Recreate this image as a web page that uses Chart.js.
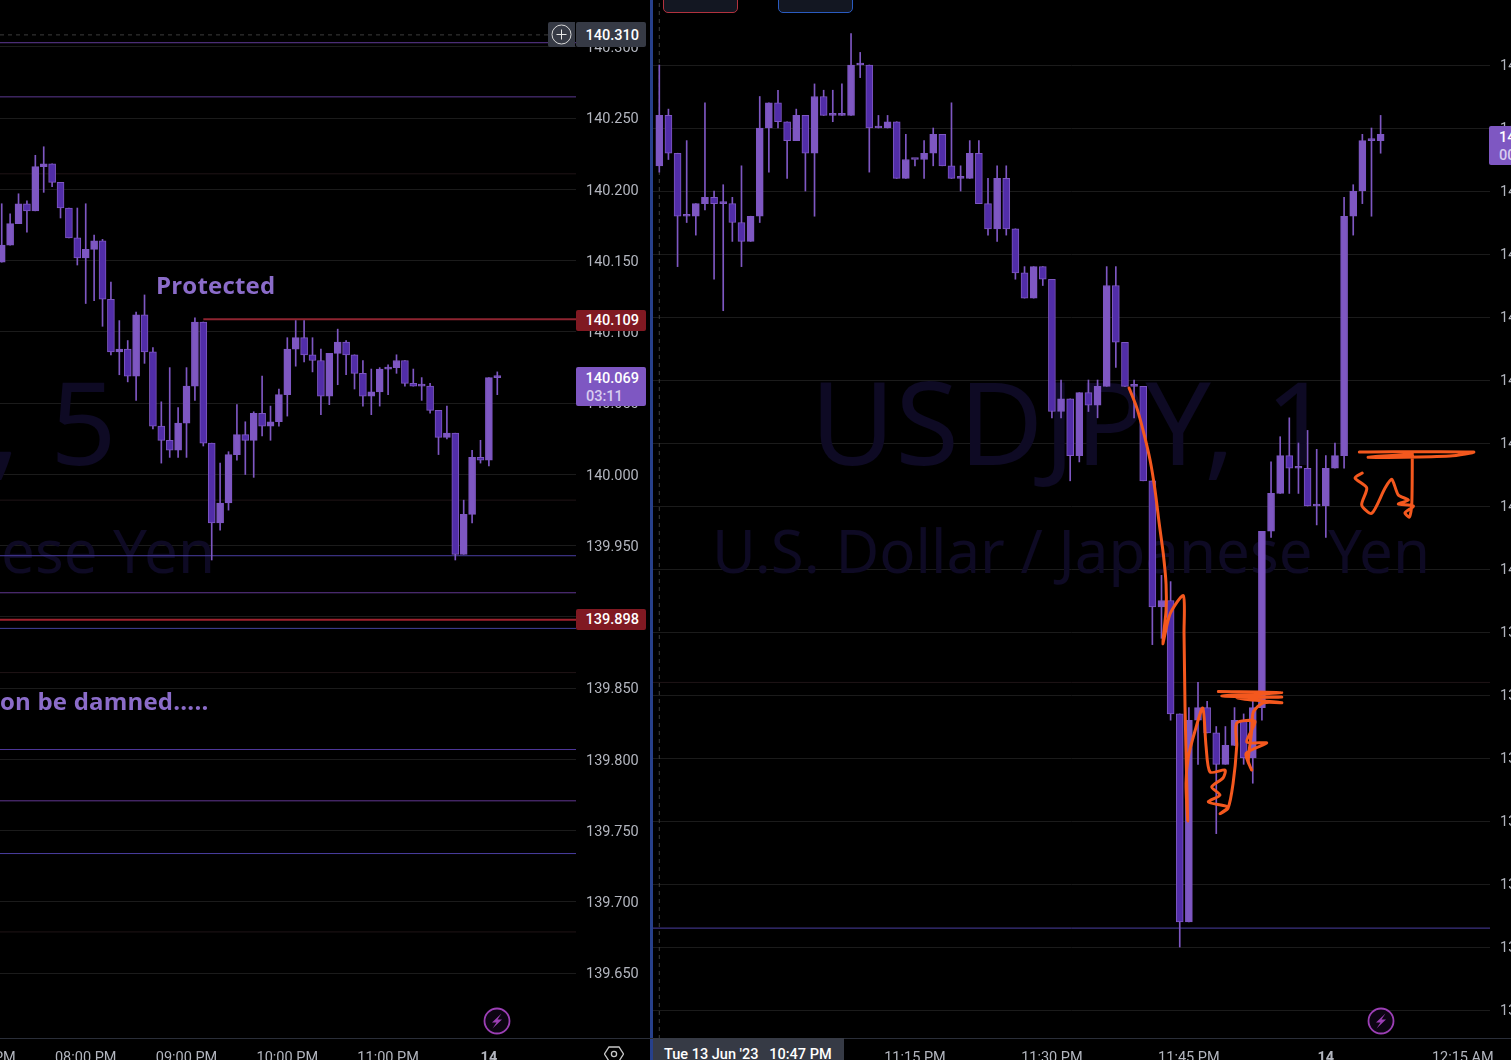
<!DOCTYPE html>
<html>
<head>
<meta charset="utf-8">
<script src="https://cdn.jsdelivr.net/npm/chart.js@4/dist/chart.umd.js"></script>
<style>
html, body { margin: 0; background: #000; width: 1511px; height: 1060px; overflow: hidden; font-family: Roboto, sans-serif; }
canvas { position: absolute; top: 0; }
.box { position: absolute; color: #fff; font: 500 14.5px Roboto, sans-serif; text-align: right; box-sizing: border-box; padding-right: 7px; white-space: pre; border-radius: 2px; }
.note { position: absolute; color: #8b6cc9; font: 700 24px "Open Sans", sans-serif; letter-spacing: .2px; white-space: pre; }
.chrome { position: absolute; }
</style>
</head>
<body>
<canvas id="leftChart" width="726" height="1075" style="left:-80px;width:726px;height:1075px"></canvas>
<canvas id="rightChart" width="900" height="1075" style="left:653px;width:900px;height:1075px"></canvas>

<div class="chrome" style="left:650px;top:0;width:3px;height:1060px;background:#27408b"></div>
<div class="chrome" style="left:0;top:1038px;width:1511px;height:1px;background:#2a2e39"></div>
<div class="chrome" style="left:663px;top:-6px;width:75px;height:19px;box-sizing:border-box;border:1px solid #b2323e;border-radius:5px;background:#131722"></div>
<div class="chrome" style="left:778px;top:-6px;width:75px;height:19px;box-sizing:border-box;border:1px solid #2a5bc0;border-radius:5px;background:#131722"></div>

<div class="note" style="left:156px;top:268px">Protected</div>
<div class="note" style="left:0;top:684px">on be damned.....</div>

<div class="chrome" style="left:548px;top:22px;width:27px;height:25px;background:#363a45;border-radius:2px 0 0 2px"></div>
<svg class="chrome" style="left:548px;top:22px" width="27" height="25"><circle cx="13.5" cy="12.5" r="9.5" fill="none" stroke="#d8d8d8" stroke-width="1"/><path d="M13.5 7.5v10M8.5 12.5h10" stroke="#e8e8e8" stroke-width="1"/></svg>
<div class="box" style="left:576px;top:22px;width:70px;height:25px;line-height:27px;background:#363a45">140.310</div>
<div class="box" style="left:576px;top:310px;width:70px;height:21px;line-height:22px;background:#801922">140.109</div>
<div class="box" style="left:576px;top:609px;width:70px;height:21px;line-height:22px;background:#801922">139.898</div>
<div class="box" style="left:576px;top:367px;width:70px;height:39px;line-height:18px;padding-top:3px;background:#7e57c2">140.069<br><span style="color:#d8cdf0;float:left;padding-left:10px">03:11</span></div>
<div class="box" style="left:1489px;top:126px;width:80px;height:39px;line-height:18px;padding-top:3px;text-align:left;padding-left:10px;background:#7e57c2">140.069<br><span style="color:#d8cdf0">00:11</span></div>

<div class="chrome" style="left:653px;top:1038px;width:191px;height:24px;background:#363a45;color:#fff;font:500 14.5px/34px Roboto,sans-serif;white-space:pre;padding-left:11px;box-sizing:border-box;overflow:hidden">Tue 13 Jun '23   10:47 PM</div>
<svg class="chrome" style="left:604px;top:1045px" width="20" height="18"><path d="M5 2h10l4.5 7-4.5 7H5L.5 9z" fill="none" stroke="#c8c8c8" stroke-width="1.3"/><circle cx="10" cy="9" r="2.6" fill="none" stroke="#c8c8c8" stroke-width="1.3"/></svg>
<svg class="chrome" style="left:483px;top:1007px" width="28" height="28"><circle cx="14" cy="14" r="12.5" fill="#0c0512" stroke="#9c3fb5" stroke-width="1.8"/><path d="M18.5 6.5L9 15.5h4.5L9.5 21.5l9.5-9h-4.5z" fill="#9c3fb5"/></svg>
<svg class="chrome" style="left:1367px;top:1007px" width="28" height="28"><circle cx="14" cy="14" r="12.5" fill="#0c0512" stroke="#9c3fb5" stroke-width="1.8"/><path d="M18.5 6.5L9 15.5h4.5L9.5 21.5l9.5-9h-4.5z" fill="#9c3fb5"/></svg>

<script>
// 5 minute pane
const leftOpen = [140.149,140.161,140.176,140.190,140.185,140.216,140.218,140.205,140.187,140.166,140.152,140.158,140.164,140.123,140.086,140.088,140.069,140.112,140.086,140.034,140.024,140.017,140.036,140.062,140.107,140.022,139.966,139.980,140.014,140.028,140.024,140.043,140.034,140.037,140.056,140.088,140.096,140.084,140.080,140.055,140.085,140.093,140.084,140.071,140.055,140.058,140.074,140.075,140.080,140.064,140.062,140.062,140.045,140.026,140.029,139.944,139.972,140.012,140.010,140.068];
const leftHigh = [140.190,140.183,140.197,140.192,140.224,140.230,140.218,140.205,140.187,140.187,140.190,140.168,140.165,140.135,140.108,140.094,140.114,140.126,140.089,140.051,140.075,140.047,140.075,140.110,140.107,140.022,140.008,140.016,140.049,140.037,140.044,140.069,140.048,140.060,140.096,140.108,140.108,140.096,140.088,140.085,140.102,140.094,140.084,140.080,140.074,140.075,140.077,140.084,140.080,140.074,140.068,140.064,140.045,140.048,140.029,139.982,140.017,140.024,140.068,140.072];
const leftLow = [140.149,140.161,140.176,140.170,140.185,140.198,140.202,140.180,140.166,140.147,140.120,140.122,140.104,140.084,140.070,140.065,140.052,140.078,140.032,140.008,140.012,140.012,140.012,140.052,140.020,139.940,139.961,139.975,140.010,140.000,139.998,140.027,140.024,140.034,140.041,140.076,140.079,140.072,140.042,140.049,140.063,140.070,140.060,140.048,140.042,140.048,140.056,140.071,140.062,140.062,140.052,140.043,140.014,140.025,139.940,139.944,139.966,140.008,140.006,140.056];
const leftClose = [140.161,140.176,140.190,140.185,140.216,140.218,140.205,140.187,140.166,140.152,140.158,140.164,140.123,140.086,140.088,140.069,140.112,140.086,140.034,140.024,140.017,140.036,140.062,140.107,140.022,139.966,139.980,140.014,140.028,140.024,140.043,140.034,140.037,140.056,140.088,140.096,140.084,140.080,140.055,140.085,140.093,140.084,140.071,140.055,140.058,140.074,140.075,140.080,140.064,140.062,140.062,140.045,140.026,140.029,139.944,139.972,140.012,140.010,140.068,140.069];

const leftTicks = [140.300,140.250,140.200,140.150,140.100,140.050,140.000,139.950,139.900,139.850,139.800,139.750,139.700,139.650];
const leftTimeBars = [-2,10,22,34,46,58];
const leftTimeLabels = ['07:00 PM','08:00 PM','09:00 PM','10:00 PM','11:00 PM','14'];
const leftLevels = [140.303,140.265,139.943,139.917,139.892,139.807,139.771,139.734];
const leftLevelColors = ['#5f3a96','#5b3891','#4a3ea0','#603790','#41419a','#4e3799','#603790','#4a3ea0'];
const fadedLevels = [140.211,139.982,139.861,139.679];
const protectedLevel = 140.109;
const protectedFrom = 24;
const lowerRedLevel = 139.898;
const crosshairPrice = 140.3085;

// 1 minute pane
const rightOpen = [140.064,140.072,140.066,140.056,140.056,140.058,140.059,140.058,140.058,140.055,140.052,140.056,140.070,140.074,140.071,140.068,140.072,140.066,140.075,140.072,140.072,140.072,140.080,140.080,140.070,140.070,140.071,140.062,140.065,140.065,140.066,140.069,140.064,140.062,140.062,140.066,140.058,140.054,140.062,140.054,140.047,140.043,140.048,140.046,140.025,140.027,140.018,140.028,140.026,140.029,140.045,140.036,140.029,140.029,140.014,139.994,139.995,139.977,139.944,139.976,139.978,139.974,139.969,139.972,139.976,139.970,139.978,140.006,140.012,140.018,140.016,140.016,140.010,140.010,140.016,140.018,140.056,140.060,140.068,140.068];
const rightHigh = [140.080,140.073,140.066,140.068,140.058,140.074,140.060,140.061,140.059,140.064,140.056,140.075,140.074,140.076,140.071,140.073,140.072,140.077,140.076,140.076,140.077,140.085,140.082,140.080,140.072,140.072,140.071,140.069,140.065,140.068,140.070,140.069,140.074,140.064,140.068,140.068,140.062,140.064,140.064,140.054,140.048,140.048,140.048,140.046,140.030,140.027,140.028,140.030,140.030,140.048,140.048,140.036,140.030,140.029,140.014,139.999,139.998,139.977,139.978,139.982,139.979,139.975,139.975,139.978,139.977,139.979,140.006,140.017,140.021,140.024,140.020,140.022,140.019,140.018,140.020,140.059,140.061,140.069,140.070,140.072];
const rightLow = [140.063,140.065,140.048,140.055,140.053,140.057,140.046,140.041,140.052,140.048,140.052,140.055,140.063,140.070,140.062,140.068,140.060,140.056,140.072,140.071,140.072,140.072,140.078,140.063,140.070,140.070,140.062,140.062,140.064,140.062,140.064,140.064,140.062,140.060,140.062,140.058,140.053,140.052,140.053,140.046,140.043,140.043,140.045,140.024,140.024,140.014,140.017,140.025,140.024,140.029,140.032,140.029,140.024,140.014,139.988,139.989,139.976,139.940,139.944,139.969,139.974,139.958,139.969,139.972,139.969,139.966,139.976,140.005,140.012,140.012,140.012,140.010,140.007,140.005,140.016,140.016,140.053,140.058,140.056,140.066];
const rightClose = [140.072,140.066,140.056,140.056,140.058,140.059,140.058,140.058,140.055,140.052,140.056,140.070,140.074,140.071,140.068,140.072,140.066,140.075,140.072,140.072,140.072,140.080,140.080,140.070,140.070,140.071,140.062,140.065,140.065,140.066,140.069,140.064,140.062,140.062,140.066,140.058,140.054,140.062,140.054,140.047,140.043,140.048,140.046,140.025,140.027,140.018,140.028,140.026,140.029,140.045,140.036,140.029,140.029,140.014,139.994,139.995,139.977,139.944,139.976,139.978,139.974,139.969,139.972,139.976,139.970,139.978,140.006,140.012,140.018,140.016,140.016,140.010,140.010,140.016,140.018,140.056,140.060,140.068,140.068,140.069];

const rightTicks = [140.080,140.070,140.060,140.050,140.040,140.030,140.020,140.010,140.000,139.990,139.980,139.970,139.960,139.950,139.940,139.930];
const rightTimeBars = [28,43,58,73,88];
const rightTimeLabels = ['11:15 PM','11:30 PM','11:45 PM','14','12:15 AM'];
const rightLevel = 139.943;
const crosshairBar = 0;

// orange pen marks on the 1 minute pane, in bars and prices
const penABars = [51.45,52.29,53.09,53.75,54.29,54.76,55.20,55.50,55.50,55.14,55.94,57.39,57.47,57.58,57.77,57.87,57.69,57.94,58.67,59.52,59.88,60.32,61.96,61.74,60.50,61.41,60.13,62.29,61.41,62.29,62.84,63.24,63.24,65.25,64.34,66.53,64.26,64.88,64.51,64.88,65.06,66.16,68.17,63.24,68.17,61.60,68.17,61.23];
const penAPrices = [140.02873,140.02562,140.02143,140.01730,140.01254,140.00714,140.00238,139.99762,139.99340,139.98814,139.99286,139.99578,139.98984,139.97794,139.96595,139.96000,139.96595,139.97016,139.97429,139.97794,139.97190,139.96778,139.96810,139.96683,139.96540,139.96413,139.96302,139.96222,139.96117,139.96206,139.96595,139.97190,139.97556,139.97579,139.97254,139.97238,139.97071,139.96810,139.96952,139.97429,139.97730,139.97878,139.97878,139.97952,139.97968,139.97984,139.98040,139.98057];
const penBBars = [76.67,89.16,86.60,77.65,82.44,82.47,82.41,82.15,81.67,82.59,80.94,82.04,80.94,80.22,79.49,78.03,76.93,77.48,76.20,76.99];
const penBPrices = [140.01857,140.01857,140.01794,140.01773,140.01825,140.01837,140.01016,140.00825,140.00894,140.01000,140.01032,140.01095,140.01175,140.01424,140.01286,140.00884,140.01016,140.01286,140.01444,140.01524];

const upColor = '#7e57c2';
const downColor = '#512da8';
const gridColor = '#1b1b1b';
const labelColor = '#b2b5be';
const penColor = '#f4581e';

function zip(xs, ys) {
    return xs.map((x, i) => ({ x: x, y: ys[i] }));
}

function candleSets(open, high, low, close) {
    return [
        {
            data: open.map((o, i) => ({ x: i, y: [o, close[i]] })),
            backgroundColor: open.map((o, i) => close[i] >= o ? upColor : downColor),
            borderColor: upColor,
            borderWidth: 1,
            borderSkipped: false,
            barThickness: 7,
            minBarLength: 2,
            grouped: false
        },
        {
            data: low.map((l, i) => ({ x: i, y: [l, high[i]] })),
            backgroundColor: upColor,
            borderWidth: 0,
            barThickness: 1,
            grouped: false
        }
    ];
}

function levelSet(price, fromBar, toBar, color, width, dash) {
    return {
        type: 'line',
        data: [{ x: fromBar, y: price }, { x: toBar, y: price }],
        borderColor: color,
        borderWidth: width,
        borderDash: dash || [],
        pointRadius: 0
    };
}

function penSet(bars, prices) {
    return {
        type: 'line',
        data: zip(bars, prices),
        borderColor: penColor,
        borderWidth: 3,
        borderCapStyle: 'round',
        borderJoinStyle: 'round',
        tension: 0.25,
        pointRadius: 0
    };
}

// faint symbol text behind the candles
function watermark(centerX, title, titleY, subtitle, subtitleY) {
    return {
        id: 'watermark',
        beforeDatasetsDraw(chart) {
            const c = chart.ctx;
            c.save();
            c.fillStyle = '#0e0a24';
            c.textAlign = 'center';
            c.textBaseline = 'middle';
            c.font = '116px "Noto Sans"';
            c.fillText(title, centerX, titleY);
            c.font = '60px "Noto Sans"';
            c.fillText(subtitle, centerX, subtitleY);
            c.restore();
        }
    };
}

function makeChart(id, datasets, cfg) {
    return new Chart(document.getElementById(id).getContext('2d'), {
        type: 'bar',
        data: { datasets: datasets },
        plugins: [cfg.plugin],
        options: {
            responsive: false,
            animation: false,
            layout: { padding: 0 },
            plugins: { legend: { display: false }, tooltip: { enabled: false } },
            scales: {
                x: {
                    type: 'linear',
                    offset: false,
                    min: cfg.xMin,
                    max: cfg.xMax,
                    grid: { display: false },
                    border: { display: false },
                    afterBuildTicks: axis => { axis.ticks = cfg.timeBars.map(v => ({ value: v })); },
                    afterFit: axis => { axis.height = 36; axis.paddingLeft = 0; axis.paddingRight = 0; },
                    ticks: {
                        autoSkip: false,
                        maxRotation: 0,
                        padding: 3,
                        color: labelColor,
                        font: ctx => ({
                            family: 'Roboto',
                            size: 14.5,
                            weight: ctx.tick && cfg.timeLabels[cfg.timeBars.indexOf(ctx.tick.value)] === '14' ? '700' : '400'
                        }),
                        callback: v => cfg.timeLabels[cfg.timeBars.indexOf(v)]
                    }
                },
                y: {
                    position: 'right',
                    min: cfg.yMin,
                    max: cfg.yMax,
                    grid: { color: gridColor, drawTicks: false },
                    border: { display: false },
                    afterBuildTicks: axis => { axis.ticks = cfg.priceTicks.map(v => ({ value: v })); },
                    afterFit: axis => { axis.width = cfg.axisWidth; axis.paddingTop = 0; axis.paddingBottom = 0; },
                    ticks: {
                        autoSkip: false,
                        padding: 10,
                        color: labelColor,
                        // blank first line with a 3px line height nudges the label 1.5px down
                        font: { family: 'Roboto', size: 14.5, lineHeight: '3px' },
                        callback: v => ['', v.toFixed(3)]
                    }
                }
            }
        }
    });
}

const leftXMin = -9.73, leftXMax = 68.37;
const rightXMin = -0.69, rightXMax = 90.98;

const leftSets = candleSets(leftOpen, leftHigh, leftLow, leftClose)
    .concat(leftLevels.map((p, i) => levelSet(p, leftXMin, leftXMax, leftLevelColors[i], 1)))
    .concat([
        levelSet(protectedLevel, protectedFrom, leftXMax, '#8e2430', 2),
        levelSet(lowerRedLevel, leftXMin, leftXMax, '#a0222e', 2),
        levelSet(crosshairPrice, leftXMin, leftXMax, '#3c3c3c', 1, [4, 4])
    ])
    .concat(fadedLevels.map(p => levelSet(p, leftXMin, leftXMax, '#1f1416', 1)));

makeChart('leftChart', leftSets, {
    xMin: leftXMin, xMax: leftXMax,
    yMin: 139.60386, yMax: 140.33298,
    axisWidth: 70,
    timeBars: leftTimeBars, timeLabels: leftTimeLabels, priceTicks: leftTicks,
    plugin: watermark(-64, 'USDJPY, 5', 432, 'U.S. Dollar / Japanese Yen', 556)
});

const rightSets = [penSet(penABars, penAPrices), penSet(penBBars, penBPrices)]
    .concat(candleSets(rightOpen, rightHigh, rightLow, rightClose))
    .concat([
        levelSet(rightLevel, rightXMin, rightXMax, '#4a3ea0', 1),
        levelSet(139.982, rightXMin, rightXMax, '#1f1416', 1),
        {
            type: 'line',
            data: [{ x: crosshairBar, y: 139.9254 }, { x: crosshairBar, y: 140.09032 }],
            borderColor: '#3c3c3c',
            borderWidth: 1,
            borderDash: [4, 4],
            pointRadius: 0
        }
    ]);

makeChart('rightChart', rightSets, {
    xMin: rightXMin, xMax: rightXMax,
    yMin: 139.9254, yMax: 140.09032,
    axisWidth: 63,
    timeBars: rightTimeBars, timeLabels: rightTimeLabels, priceTicks: rightTicks,
    plugin: watermark(418, 'USDJPY, 1', 432, 'U.S. Dollar / Japanese Yen', 556)
});
</script>
</body>
</html>
